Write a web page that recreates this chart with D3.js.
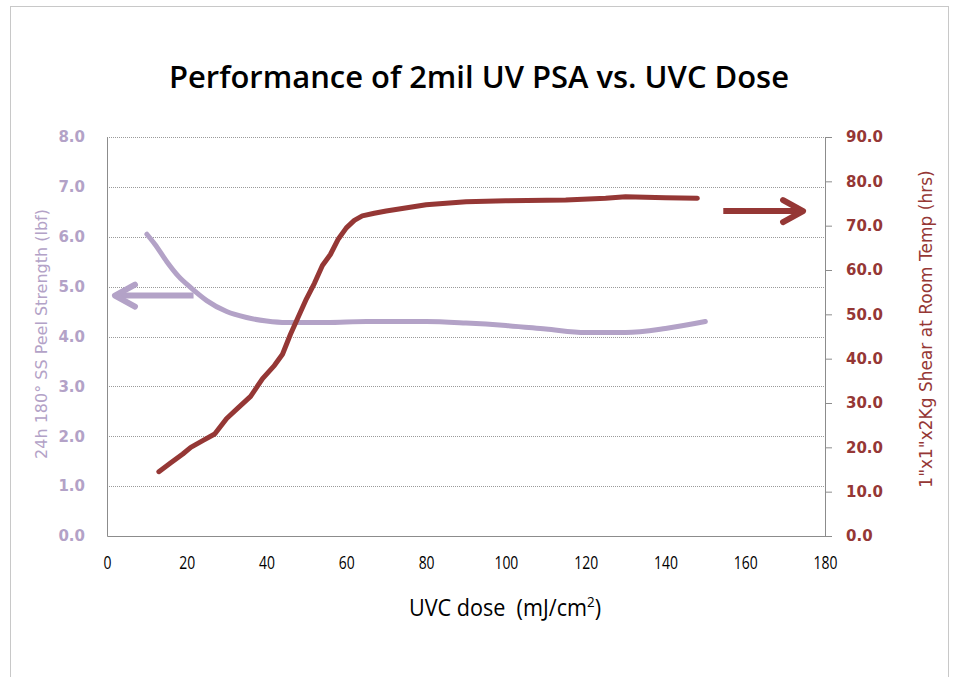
<!DOCTYPE html>
<html>
<head>
<meta charset="utf-8">
<script src="https://cdn.jsdelivr.net/npm/d3@7"></script>
<style>
  body { margin: 0; background: #fff; }
  svg { display: block; }
</style>
</head>
<body>
<svg id="chart" width="953" height="677"></svg>
<script>
// peel strength (left axis), UVC dose vs lbf
var peelDose = [10, 12, 15, 18, 21, 25, 30, 35, 40, 45, 55, 65, 80, 90, 100, 110, 120, 130, 140, 150];
var peelValue = [6.05, 5.85, 5.5, 5.2, 4.98, 4.72, 4.5, 4.38, 4.31, 4.28, 4.28, 4.3, 4.3, 4.27, 4.22, 4.15, 4.08, 4.08, 4.16, 4.3];

// shear (right axis), UVC dose vs hrs
var shearDose = [13, 16, 19, 21, 24, 27, 30, 33, 36, 39, 42, 44, 46, 48, 50, 52, 54, 56, 58, 60, 62, 64, 67, 70, 80, 90, 100, 115, 125, 130, 140, 148];
var shearValue = [14.5, 16.5, 18.5, 20, 21.5, 23, 26.5, 29, 31.5, 35.5, 38.5, 41, 45.5, 49.5, 53.5, 57, 61, 63.5, 67, 69.5, 71.2, 72.2, 72.8, 73.3, 74.7, 75.4, 75.6, 75.8, 76.2, 76.5, 76.3, 76.2];

var xTicks = [0, 20, 40, 60, 80, 100, 120, 140, 160, 180];
var leftTicks = [0, 1, 2, 3, 4, 5, 6, 7, 8];
var rightTicks = [0, 10, 20, 30, 40, 50, 60, 70, 80, 90];

// arrow annotations: [x0, x1, y]
var peelArrow = [21.7, 2, 4.82];
var shearArrow = [154.5, 174.5, 73.3];

var purple = "#b3a2c7";
var darkRed = "#953735";

var svg = d3.select("#chart");
var margin = { left: 107, right: 128, top: 137, bottom: 141 };
var width = 953, height = 677;

// frame
svg.append("rect")
    .attr("x", 10.5).attr("y", 6.5)
    .attr("width", 938).attr("height", 700)
    .attr("fill", "#fff")
    .attr("stroke", "#c8c8c8")
    .attr("stroke-width", 1);

var xScale = d3.scaleLinear().domain([0, 180]).range([margin.left, width - margin.right]);
var yLeft = d3.scaleLinear().domain([0, 8]).range([height - margin.bottom, margin.top]);
var yRight = d3.scaleLinear().domain([0, 90]).range([height - margin.bottom, margin.top]);

// gridlines
svg.append("g").selectAll("line")
    .data(leftTicks.slice(1))
    .enter().append("line")
    .attr("x1", xScale(0)).attr("x2", xScale(180))
    .attr("y1", function (d) { return Math.round(yLeft(d)) + 0.5; })
    .attr("y2", function (d) { return Math.round(yLeft(d)) + 0.5; })
    .attr("stroke", "#9a9a9a")
    .attr("stroke-width", 1)
    .attr("stroke-dasharray", "1,1");

// x axis
var xAxis = svg.append("g")
    .attr("transform", "translate(0," + yLeft(0) + ")")
    .call(d3.axisBottom(xScale).tickValues(xTicks).tickSize(0).tickPadding(0).tickFormat(d3.format("d")));
xAxis.select(".domain").attr("stroke", "#8c8c8c");
xAxis.selectAll(".tick text")
    .attr("fill", "#000")
    .attr("y", 0)
    .attr("dy", 0)
    .attr("transform", "translate(0,33) scale(0.82,1.1)")
    .style("font-family", "'Open Sans', sans-serif")
    .style("font-size", "17px");

// left axis
var leftAxis = svg.append("g")
    .attr("transform", "translate(" + xScale(0) + ",0)")
    .call(d3.axisLeft(yLeft).tickValues(leftTicks).tickSize(0).tickPadding(22).tickFormat(d3.format(".1f")));
leftAxis.select(".domain").attr("stroke", "#8c8c8c");
leftAxis.selectAll("text")
    .attr("fill", purple)
    .style("font-family", "'DejaVu Sans', Verdana, sans-serif")
    .style("font-weight", "bold")
    .style("font-size", "15px");

// right axis
var rightAxis = svg.append("g")
    .attr("transform", "translate(" + xScale(180) + ",0)")
    .call(d3.axisRight(yRight).tickValues(rightTicks).tickSizeInner(7).tickSizeOuter(0).tickPadding(14).tickFormat(d3.format(".1f")));
rightAxis.select(".domain").attr("stroke", "#8c8c8c");
rightAxis.selectAll(".tick line").attr("stroke", "#8c8c8c");
rightAxis.selectAll("text")
    .attr("fill", darkRed)
    .style("font-family", "'DejaVu Sans', Verdana, sans-serif")
    .style("font-weight", "bold")
    .style("font-size", "15px");

// lines
var peelData = peelDose.map(function (d, i) { return { x: d, y: peelValue[i] }; });
var shearData = shearDose.map(function (d, i) { return { x: d, y: shearValue[i] }; });

var peelLine = d3.line()
    .x(function (d) { return xScale(d.x); })
    .y(function (d) { return yLeft(d.y); })
    .curve(d3.curveMonotoneX);

var shearLine = d3.line()
    .x(function (d) { return xScale(d.x); })
    .y(function (d) { return yRight(d.y); })
    .curve(d3.curveLinear);

svg.append("path")
    .datum(peelData)
    .attr("fill", "none")
    .attr("stroke", purple)
    .attr("stroke-width", 5)
    .attr("stroke-linecap", "round")
    .attr("d", peelLine);

svg.append("path")
    .datum(shearData)
    .attr("fill", "none")
    .attr("stroke", darkRed)
    .attr("stroke-width", 5)
    .attr("stroke-linejoin", "round")
    .attr("stroke-linecap", "round")
    .attr("d", shearLine);

// arrows
function drawArrow(x0, x1, y, color)
{
    var dir = x1 > x0 ? 1 : -1;
    var g = svg.append("g")
        .attr("fill", "none")
        .attr("stroke", color)
        .attr("stroke-width", 6)
        .attr("stroke-linecap", "round")
        .attr("stroke-linejoin", "round");
    g.append("line")
        .attr("x1", x0).attr("y1", y)
        .attr("x2", x1 - dir * 2).attr("y2", y)
        .attr("stroke-linecap", "butt");
    g.append("path")
        .attr("d", "M" + (x1 - dir * 20) + "," + (y - 11) + "L" + x1 + "," + y + "L" + (x1 - dir * 20) + "," + (y + 11));
}
drawArrow(xScale(peelArrow[0]), xScale(peelArrow[1]), yLeft(peelArrow[2]), purple);
drawArrow(xScale(shearArrow[0]), xScale(shearArrow[1]), yRight(shearArrow[2]), darkRed);

// titles
svg.append("text")
    .attr("x", 479).attr("y", 88)
    .attr("text-anchor", "middle")
    .attr("textLength", 620)
    .attr("lengthAdjust", "spacingAndGlyphs")
    .style("font-family", "'Open Sans', sans-serif")
    .style("font-weight", "600")
    .style("font-size", "30px")
    .attr("fill", "#000")
    .text("Performance of 2mil UV PSA vs. UVC Dose");

var xTitle = svg.append("text")
    .attr("transform", "translate(505,616) scale(0.9,1)")
    .attr("text-anchor", "middle")
    .style("font-family", "'Open Sans', sans-serif")
    .style("font-size", "24px")
    .style("white-space", "pre")
    .attr("fill", "#000");
xTitle.append("tspan").text("UVC dose  (mJ/cm");
xTitle.append("tspan").attr("dy", -9).style("font-size", "15px").text("2");
xTitle.append("tspan").attr("dy", 9).text(")");

svg.append("text")
    .attr("transform", "translate(47,334) rotate(-90)")
    .attr("text-anchor", "middle")
    .style("font-family", "'DejaVu Sans', Verdana, sans-serif")
    .style("font-size", "16px")
    .attr("fill", purple)
    .text("24h 180\u00b0 SS Peel Strength (lbf)");

svg.append("text")
    .attr("transform", "translate(932,329) rotate(-90)")
    .attr("text-anchor", "middle")
    .style("font-family", "'DejaVu Sans', Verdana, sans-serif")
    .style("font-size", "17px")
    .attr("fill", darkRed)
    .text("1\"x1\"x2Kg Shear at Room Temp (hrs)");
</script>
</body>
</html>
